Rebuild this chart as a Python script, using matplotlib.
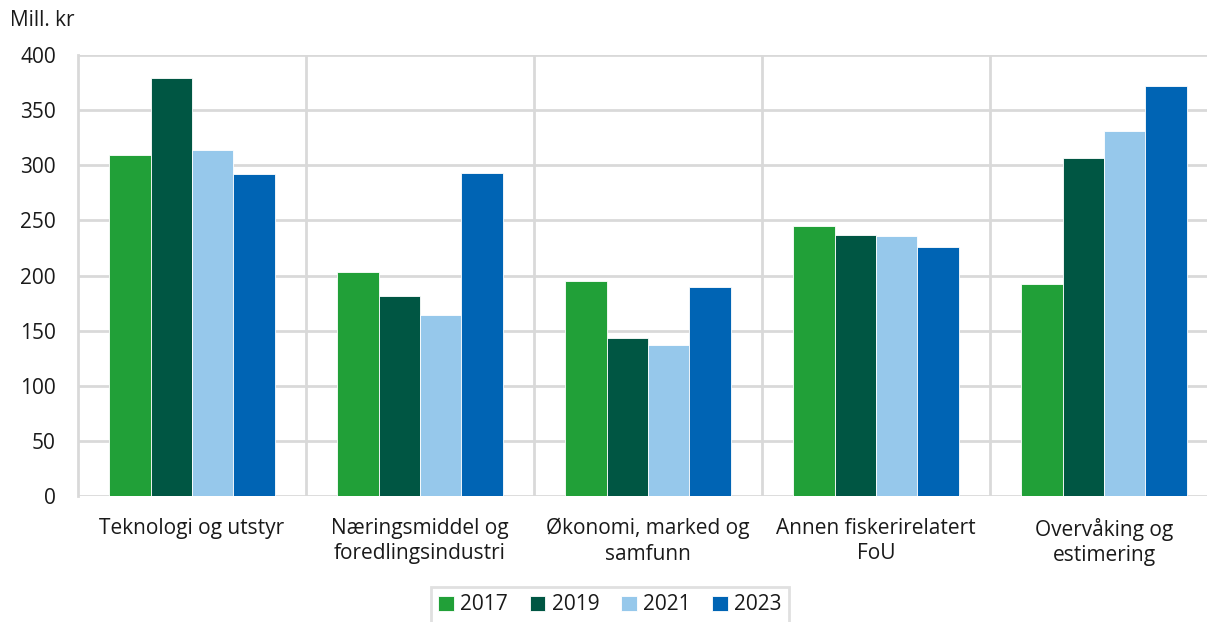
import matplotlib
matplotlib.use("Agg")
import matplotlib.pyplot as plt
import numpy as np

categories = ["Teknologi og utstyr", "Næringsmiddel og\nforedlingsindustri",
              "Økonomi, marked og\nsamfunn", "Annen fiskerirelatert\nFoU",
              "Overvåking og\nestimering"]
years = ["2017", "2019", "2021", "2023"]
v2017 = [309, 203, 195, 245, 192]
v2019 = [379, 181, 143, 237, 307]
v2021 = [314, 164, 137, 236, 331]
v2023 = [292, 293, 190, 226, 372]
series = [v2017, v2019, v2021, v2023]
colors = ["#21a038", "#005643", "#96c8eb", "#0064b4"]
yticks = [0, 50, 100, 150, 200, 250, 300, 350, 400]

plt.rcParams['font.family'] = ['Open Sans', 'DejaVu Sans']
FS = 15

W, H = 1207, 622
fig = plt.figure(figsize=(W / 100, H / 100), dpi=100)
left, right = 78, 1218
top, bottom = 55, 496
ax = fig.add_axes([left / W, 1 - bottom / H, (right - left) / W, (bottom - top) / H])

x = np.arange(len(categories))
bw = 0.182
for i, (vals, c, yr) in enumerate(zip(series, colors, years)):
    ax.bar(x + (i - 1.5) * bw, vals, width=bw, color=c, label=yr,
           edgecolor="white", linewidth=0.6, zorder=3)

ax.set_xlim(-0.5, len(categories) - 0.5)
ax.set_ylim(0, 400)
ax.set_yticks(yticks)
ax.set_yticklabels([str(t) for t in yticks], fontsize=FS, color="#1a1a1a")
ax.set_xticks(x)
ax.set_xticklabels(categories, fontsize=FS, color="#1a1a1a", linespacing=1.3)
ax.tick_params(axis='y', length=0, pad=16)
ax.tick_params(axis='x', length=0, pad=15.5)
for y in yticks:
    ax.axhline(y, color="#d9d9d9", linewidth=2, zorder=1)
for b in np.arange(0.5, len(categories) - 0.5, 1):
    ax.axvline(b, color="#d9d9d9", linewidth=2, zorder=1)
for s in ["top", "right", "bottom"]:
    ax.spines[s].set_visible(False)
ax.spines["left"].set_color("#d9d9d9")
ax.spines["left"].set_linewidth(2)

fig.text(10 / W, 1 - 21 / H, "Mill. kr", fontsize=FS, color="#1a1a1a", va="center", ha="left")

leg = fig.legend(loc="center", bbox_to_anchor=(610 / W, 1 - 605 / H), ncol=4,
                 fontsize=FS, frameon=True, fancybox=False, handlelength=0.75,
                 handleheight=0.75, handletextpad=0.3, columnspacing=1.05,
                 borderpad=0.35)
leg.get_frame().set_edgecolor("#d9d9d9")
leg.get_frame().set_linewidth(2)
for t in leg.get_texts():
    t.set_color("#1a1a1a")

fig.savefig("out.png", dpi=100)
